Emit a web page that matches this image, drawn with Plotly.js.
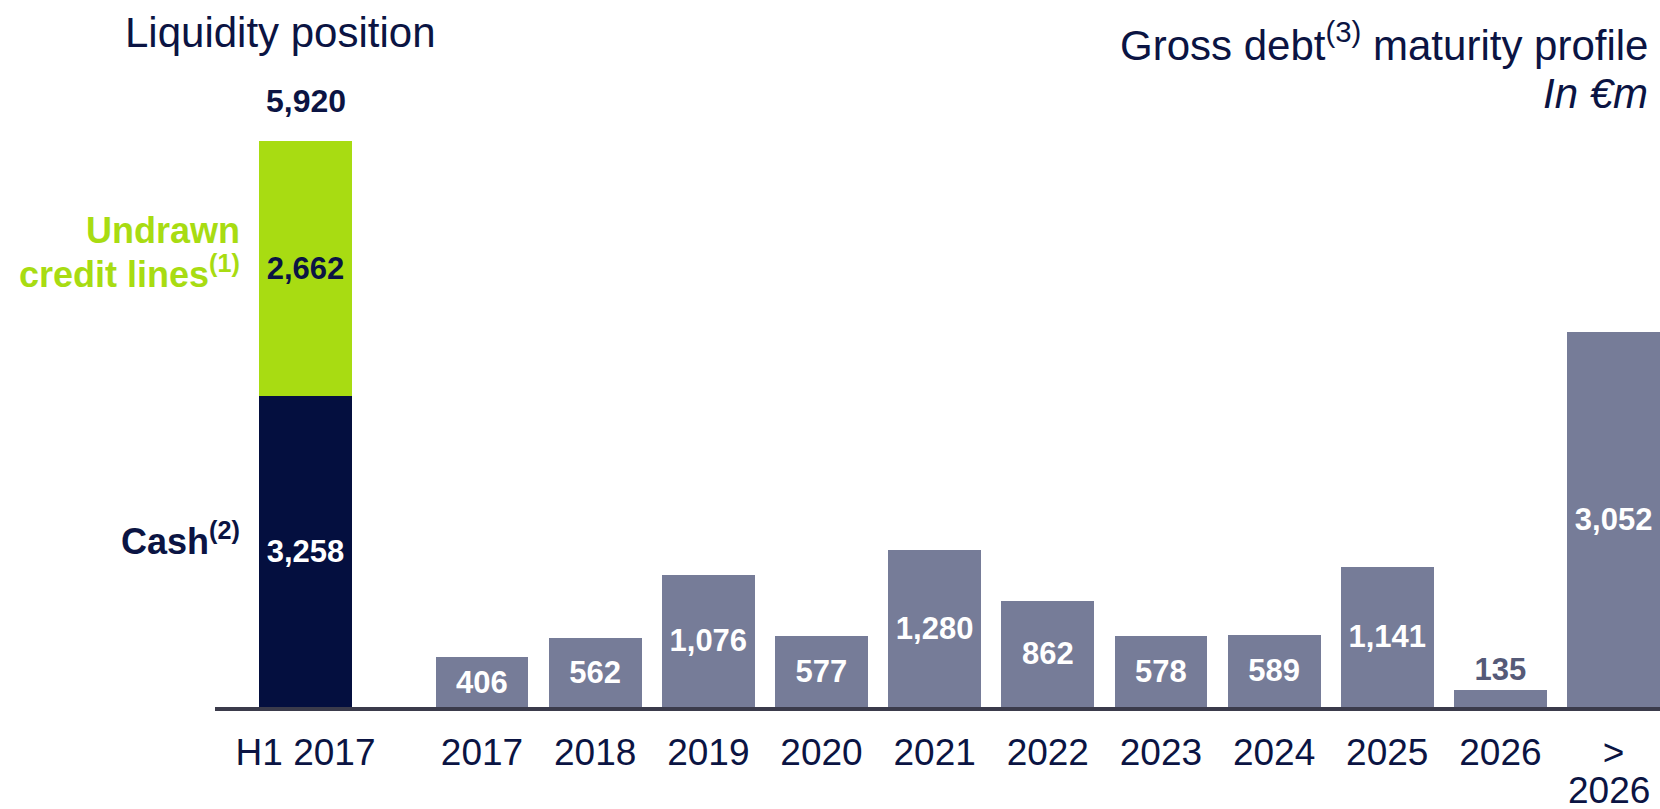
<!DOCTYPE html>
<html>
<head>
<meta charset="utf-8">
<script src="https://cdn.plot.ly/plotly-3.0.1.min.js"></script>
<style>
  html, body { margin: 0; padding: 0; background: #fff; }
  #chart { width: 1660px; height: 809px; }
</style>
</head>
<body>
<div id="chart"></div>
<script>
// Liquidity position (H1 2017), in €m
const liquidityCategory = ['H1 2017'];
const cashValues = [3258];
const undrawnValues = [2662];

// Gross debt maturity profile, in €m
const maturityYears = ['2017', '2018', '2019', '2020', '2021', '2022', '2023', '2024', '2025', '2026', '>2026'];
// the last label is split over two lines: '>' as tick text, '2026' underneath
const maturityTickLabels = ['2017', '2018', '2019', '2020', '2021', '2022', '2023', '2024', '2025', '2026', '>'];
const lastTickSecondLine = '2026';
const debtValues = [406, 562, 1076, 577, 1280, 862, 578, 589, 1141, 135, 3052];

// Colours
const NAVY = '#040f3f';
const TEXT_NAVY = '#0b1443';
const GREEN = '#a8dc12';
const DEBT_GREY = '#767c98';
const FONT = 'Liberation Sans, Arial, sans-serif';

const W = 1660;
const plotH = 707; // plot area from top of page down to the axis line

const totalLiquidity = cashValues[0] + undrawnValues[0];

const data = [
    {
        type: 'bar',
        x: liquidityCategory,
        y: cashValues,
        xaxis: 'x', yaxis: 'y',
        marker: { color: NAVY },
        texttemplate: '%{y:,}',
        textposition: 'inside',
        insidetextanchor: 'middle',
        constraintext: 'none',
        textfont: { family: FONT, size: 31, color: '#ffffff', weight: 'bold' },
        hoverinfo: 'skip'
    },
    {
        type: 'bar',
        x: liquidityCategory,
        y: undrawnValues,
        xaxis: 'x', yaxis: 'y',
        marker: { color: GREEN },
        texttemplate: '%{y:,}',
        textposition: 'inside',
        insidetextanchor: 'middle',
        constraintext: 'none',
        textfont: { family: FONT, size: 31, color: TEXT_NAVY, weight: 'bold' },
        hoverinfo: 'skip'
    },
    {
        type: 'bar',
        x: maturityYears,
        y: debtValues,
        xaxis: 'x2', yaxis: 'y2',
        marker: { color: DEBT_GREY },
        texttemplate: '%{y:,}',
        // tiny bar: label sits on top of it
        textposition: debtValues.map(v => v < 300 ? 'outside' : 'inside'),
        insidetextanchor: 'middle',
        constraintext: 'none',
        cliponaxis: false,
        insidetextfont: { family: FONT, size: 31, color: '#ffffff', weight: 'bold' },
        outsidetextfont: { family: FONT, size: 31, color: '#555a78', weight: 'bold' },
        hoverinfo: 'skip'
    }
];

const axisLine = { showline: true, linecolor: '#3b3b4b', linewidth: 4 };
const tickFont = { family: FONT, size: 37, color: TEXT_NAVY };

const layout = {
    width: W,
    height: 809,
    margin: { l: 0, r: 0, t: 0, b: 102 },
    paper_bgcolor: '#ffffff',
    plot_bgcolor: '#ffffff',
    showlegend: false,
    barmode: 'stack',
    bargap: 0.18,
    hovermode: false,
    font: { family: FONT, color: TEXT_NAVY },
    xaxis: Object.assign({
        domain: [215 / W, 425.4 / W],
        anchor: 'y',
        type: 'category',
        range: [-0.8, 1.059],
        ticks: '',
        tickfont: tickFont,
        ticklabelstandoff: 10,
        fixedrange: true
    }, axisLine),
    yaxis: {
        domain: [0, 1],
        anchor: 'x',
        range: [0, 7395],
        visible: false,
        fixedrange: true
    },
    xaxis2: Object.assign({
        domain: [425.4 / W, 1],
        anchor: 'y2',
        type: 'category',
        range: [-0.5, 10.41],
        tickvals: maturityYears,
        ticktext: maturityTickLabels,
        ticks: '',
        tickfont: tickFont,
        ticklabelstandoff: 10,
        fixedrange: true
    }, axisLine),
    yaxis2: {
        domain: [0, 1],
        anchor: 'x2',
        range: [0, 5748],
        visible: false,
        fixedrange: true
    },
    annotations: [
        {
            text: 'Liquidity position',
            xref: 'paper', yref: 'paper',
            x: 280 / W, y: (plotH - 32) / plotH,
            xanchor: 'center', yanchor: 'middle',
            showarrow: false,
            font: { family: FONT, size: 42, color: TEXT_NAVY }
        },
        {
            text: 'Gross debt<sup>(3)</sup> maturity profile',
            xref: 'paper', yref: 'paper',
            x: 1650 / W, y: (plotH - 42) / plotH,
            xanchor: 'right', yanchor: 'middle',
            showarrow: false,
            font: { family: FONT, size: 42, color: TEXT_NAVY }
        },
        {
            text: '<i>In €m</i>',
            xref: 'paper', yref: 'paper',
            x: 1650 / W, y: (plotH - 93) / plotH,
            xanchor: 'right', yanchor: 'middle',
            showarrow: false,
            font: { family: FONT, size: 42, color: TEXT_NAVY }
        },
        {
            // total on top of the stacked bar
            text: '<b>' + totalLiquidity.toLocaleString('en-US') + '</b>',
            xref: 'x', yref: 'y',
            x: liquidityCategory[0], y: totalLiquidity,
            xanchor: 'center', yanchor: 'bottom',
            yshift: 20,
            showarrow: false,
            font: { family: FONT, size: 32, color: TEXT_NAVY }
        },
        {
            text: '<b>Undrawn</b>',
            xref: 'x', yref: 'y',
            x: liquidityCategory[0], y: cashValues[0] + undrawnValues[0] / 2,
            xanchor: 'right', yanchor: 'middle',
            xshift: -64, yshift: 38,
            showarrow: false,
            font: { family: FONT, size: 36, color: GREEN }
        },
        {
            text: '<b>credit lines<sup>(1)</sup></b>',
            xref: 'x', yref: 'y',
            x: liquidityCategory[0], y: cashValues[0] + undrawnValues[0] / 2,
            xanchor: 'right', yanchor: 'middle',
            xshift: -64, yshift: -4,
            showarrow: false,
            font: { family: FONT, size: 36, color: GREEN }
        },
        {
            text: '<b>Cash<sup>(2)</sup></b>',
            xref: 'x', yref: 'y',
            x: liquidityCategory[0], y: cashValues[0] / 2,
            xanchor: 'right', yanchor: 'middle',
            xshift: -64, yshift: 12,
            showarrow: false,
            font: { family: FONT, size: 36, color: TEXT_NAVY }
        },
        {
            // second line of the '> 2026' tick label
            text: lastTickSecondLine,
            xref: 'x2', yref: 'paper',
            x: maturityYears[maturityYears.length - 1], y: 0,
            xanchor: 'center', yanchor: 'middle',
            xshift: -5, yshift: -83,
            showarrow: false,
            font: tickFont
        }
    ]
};

Plotly.newPlot('chart', data, layout, { displayModeBar: false, staticPlot: true });
</script>
</body>
</html>
